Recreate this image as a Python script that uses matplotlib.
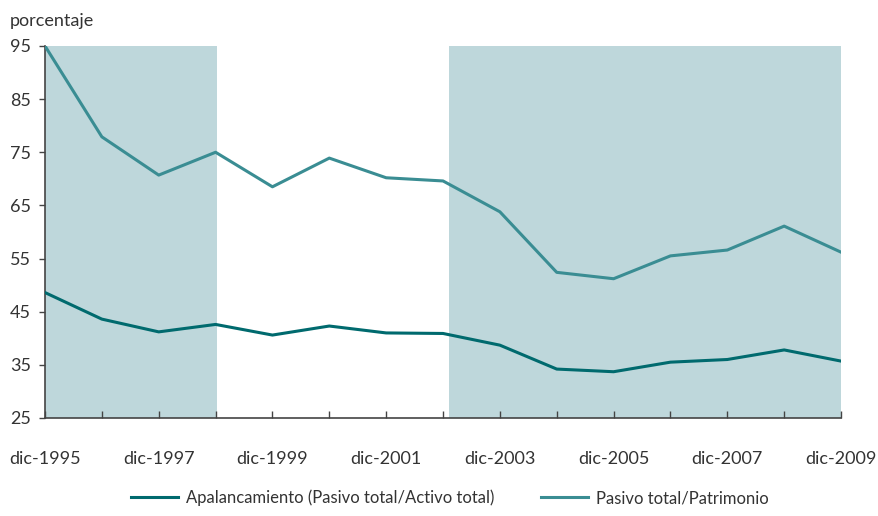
import matplotlib.pyplot as plt

plt.rcParams["font.family"] = ["Lato", "DejaVu Sans"]

years = list(range(1995, 2010))
apalancamiento = [48.6, 43.6, 41.2, 42.6, 40.6, 42.3, 41.0, 40.9, 38.7, 34.2, 33.7, 35.5, 36.0, 37.8, 35.7]
pasivo_patrimonio = [95.0, 77.9, 70.7, 75.0, 68.5, 73.9, 70.2, 69.6, 63.8, 52.4, 51.2, 55.5, 56.6, 61.1, 56.2]
shaded_spans = [(1995, 1998.02), (2002.1, 2009)]
y_ticks = [25, 35, 45, 55, 65, 75, 85, 95]
tick_years = list(range(1995, 2010, 2))
tick_labels = [f"dic-{y}" for y in tick_years]

dark = "#006A6E"
light = "#3A8D93"
shade = "#BED7DB"
axis_col = "#444444"
text_col = "#333333"

fig = plt.figure(figsize=(8.79, 5.16), dpi=100)
ax = fig.add_axes([0.0512, 0.19, 0.9056, 0.7209])

for a, b in shaded_spans:
    ax.axvspan(a, b, color=shade, lw=0, zorder=0)

ax.plot(years, apalancamiento, color=dark, lw=2.2, label="Apalancamiento (Pasivo total/Activo total)", zorder=3)
ax.plot(years, pasivo_patrimonio, color=light, lw=2.2, label="Pasivo total/Patrimonio", zorder=3)

ax.set_xlim(1995, 2009)
ax.set_ylim(25, 95)
ax.set_yticks(y_ticks)
ax.set_xticks(tick_years)
ax.set_xticklabels(tick_labels)
ax.set_xticks(years, minor=True)

for side in ("top", "right"):
    ax.spines[side].set_visible(False)
for side in ("left", "bottom"):
    ax.spines[side].set_color(axis_col)
    ax.spines[side].set_linewidth(1.2)

ax.tick_params(axis="x", which="both", direction="in", length=5, color=axis_col, width=1)
ax.tick_params(axis="x", which="major", pad=24, labelsize=13, labelcolor=text_col)
ax.tick_params(axis="y", direction="out", length=4, color=axis_col, width=1,
               pad=6, labelsize=13, labelcolor=text_col)

fig.text(0.011, 0.975, "porcentaje", fontsize=13, color=text_col, va="top", ha="left")

fig.legend(loc="center", bbox_to_anchor=(0.512, 0.035), ncol=2, frameon=False,
           fontsize=12, handlelength=2.8, handletextpad=0.5, columnspacing=2.8,
           labelcolor=text_col)

fig.savefig("out.png", dpi=100)
